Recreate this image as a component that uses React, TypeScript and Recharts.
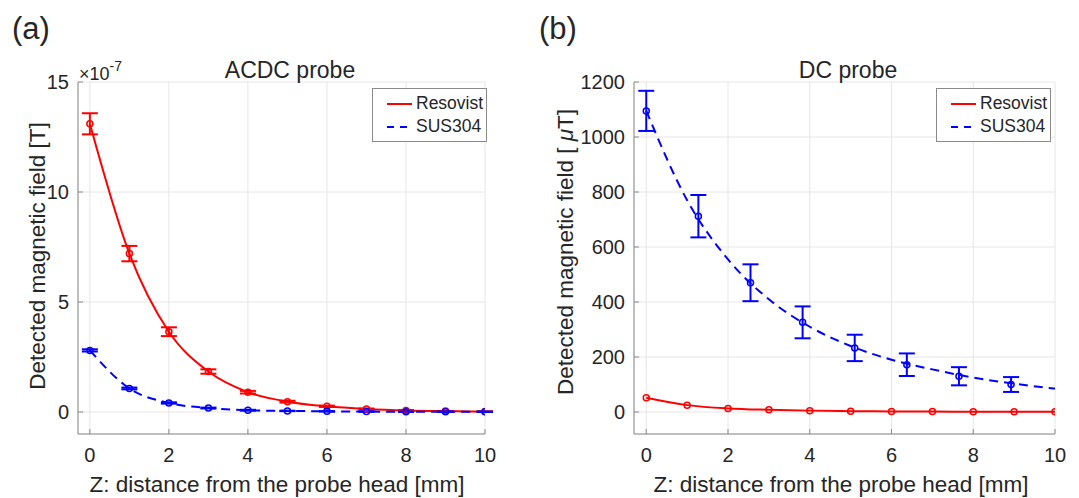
import React from 'react';
import { LineChart, Line, XAxis, YAxis, CartesianGrid, ErrorBar, Legend } from 'recharts';

// ---------- data ----------
const zTicks = [0, 2, 4, 6, 8, 10];
const acdcYTicks = [0, 5, 10, 15];
const dcYTicks = [0, 200, 400, 600, 800, 1000, 1200];

// (a) ACDC probe, values in units of 1e-7 T
const acdcZ = [0, 1, 2, 3, 4, 5, 6, 7, 8, 9, 10];
const acdcResovist = [13.1, 7.2, 3.65, 1.84, 0.9, 0.47, 0.26, 0.14, 0.07, 0.04, 0.02];
const acdcResovistErr = [0.48, 0.35, 0.2, 0.1, 0.06, 0.04, 0.03, 0.02, 0.02, 0.01, 0.01];
const acdcSus = [2.8, 1.07, 0.41, 0.18, 0.08, 0.05, 0.03, 0.02, 0.01, 0.01, 0.01];
const acdcSusErr = [0.05, 0.04, 0.03, 0.02, 0.02, 0.01, 0.01, 0.01, 0.01, 0.01, 0.01];

// (b) DC probe, values in uT
const dcResZ = [0, 1, 2, 3, 4, 5, 6, 7, 8, 9, 10];
const dcResovist = [52, 25, 13, 8, 5, 3, 2, 1.5, 1, 0.8, 0.5];
const dcSusZ = [0, 1.275, 2.55, 3.825, 5.1, 6.375, 7.65, 8.925];
const dcSus = [1095, 712, 470, 326, 233, 172, 130, 100];
const dcSusErr = [73, 77, 67, 58, 48, 41, 33, 27];
const dcFitZ = [0, 1, 2, 3, 4, 5, 6, 7, 8, 9, 10];
const dcFit = [1095, 770, 555, 410, 310, 240, 190, 155, 125, 103, 85];

const acdcData = acdcZ.map((z, i) => ({
  z,
  res: acdcResovist[i],
  resErr: acdcResovistErr[i],
  sus: acdcSus[i],
  susErr: acdcSusErr[i],
}));
const dcResData = dcResZ.map((z, i) => ({ z, v: dcResovist[i] }));
const dcSusData = dcSusZ.map((z, i) => ({ z, v: dcSus[i], e: dcSusErr[i] }));
const dcFitData = dcFitZ.map((z, i) => ({ z, v: dcFit[i] }));

// ---------- styles ----------
const FONT = '"Liberation Sans", Arial, Helvetica, sans-serif';
const TXT = '#262626';
const AXC = '#8a8a8a';
const GRID = '#e6e6e6';
const RED = '#ff0000';
const BLUE = '#0000ff';
const tickStyle = { fontSize: 20, fill: TXT, fontFamily: FONT };

const LegendBox = () => (
  <div
    style={{
      border: `1px solid ${AXC}`,
      background: '#fff',
      padding: '3px 3px 3px 14px',
      fontFamily: FONT,
      fontSize: 17.5,
      color: TXT,
      lineHeight: '23px',
      whiteSpace: 'nowrap',
    }}
  >
    <div style={{ display: 'flex', alignItems: 'center' }}>
      <svg width={26} height={10} style={{ marginRight: 3 }}>
        <line x1={0} y1={5} x2={25} y2={5} stroke={RED} strokeWidth={2} />
      </svg>
      Resovist
    </div>
    <div style={{ display: 'flex', alignItems: 'center' }}>
      <svg width={26} height={10} style={{ marginRight: 3 }}>
        <line x1={0} y1={5} x2={25} y2={5} stroke={BLUE} strokeWidth={2} strokeDasharray="7 6" />
      </svg>
      SUS304
    </div>
  </div>
);

const axisCommon = {
  stroke: AXC,
  tickSize: -5,
};

export default function App() {
  return (
    <div style={{ position: 'absolute', left: 0, top: 0, width: 1079, height: 498, background: '#fff' }}>
      {/* (a) */}
      <div style={{ position: 'absolute', left: 0, top: 0 }}>
        <LineChart width={540} height={498} data={acdcData} margin={{ top: 82, right: 55, left: 18, bottom: 34 }}>
          <CartesianGrid stroke={GRID} />
          <XAxis
            dataKey="z"
            type="number"
            domain={[-0.3, 10]}
            ticks={zTicks}
            allowDataOverflow
            height={30}
            tick={tickStyle}
            tickMargin={19}
            {...axisCommon}
          />
          <XAxis xAxisId="top" orientation="top" type="number" domain={[-0.3, 10]} ticks={zTicks} height={0} tickFormatter={() => ''} {...axisCommon} />
          <YAxis
            type="number"
            domain={[-1, 15]}
            ticks={acdcYTicks}
            allowDataOverflow
            width={60}
            tick={tickStyle}
            tickMargin={14}
            {...axisCommon}
          />
          <YAxis yAxisId="right" orientation="right" type="number" domain={[-1, 15]} ticks={acdcYTicks} width={0} tickFormatter={() => ''} {...axisCommon} />
          <Legend
            layout="vertical"
            align="center"
            verticalAlign="middle"
            content={() => <LegendBox />}
            wrapperStyle={{ left: 372, top: 88, width: 'auto' }}
          />
          <Line
            type="monotone"
            dataKey="res"
            stroke={RED}
            strokeWidth={2}
            dot={{ r: 3, fill: 'none', stroke: RED, strokeWidth: 1.5 }}
            isAnimationActive={false}
          >
            <ErrorBar dataKey="resErr" direction="y" stroke={RED} strokeWidth={2} width={8} />
          </Line>
          <Line
            type="monotone"
            dataKey="sus"
            stroke={BLUE}
            strokeWidth={2}
            strokeDasharray="9 6"
            dot={{ r: 3, fill: 'none', stroke: BLUE, strokeWidth: 1.5, strokeDasharray: '' }}
            isAnimationActive={false}
          >
            <ErrorBar dataKey="susErr" direction="y" stroke={BLUE} strokeWidth={2} width={8} />
          </Line>
        </LineChart>
      </div>

      {/* (b) */}
      <div style={{ position: 'absolute', left: 540, top: 0 }}>
        <LineChart width={539} height={498} margin={{ top: 82, right: 24, left: 34, bottom: 34 }}>
          <CartesianGrid stroke={GRID} />
          <XAxis
            dataKey="z"
            type="number"
            domain={[-0.3, 10]}
            ticks={zTicks}
            allowDataOverflow
            height={30}
            tick={tickStyle}
            tickMargin={19}
            {...axisCommon}
          />
          <XAxis xAxisId="top" orientation="top" type="number" domain={[-0.3, 10]} ticks={zTicks} height={0} tickFormatter={() => ''} {...axisCommon} />
          <YAxis
            type="number"
            domain={[-80, 1200]}
            ticks={dcYTicks}
            allowDataOverflow
            width={60}
            tick={tickStyle}
            tickMargin={14}
            {...axisCommon}
          />
          <YAxis yAxisId="right" orientation="right" type="number" domain={[-80, 1200]} ticks={dcYTicks} width={0} tickFormatter={() => ''} {...axisCommon} />
          <Legend
            layout="vertical"
            align="center"
            verticalAlign="middle"
            content={() => <LegendBox />}
            wrapperStyle={{ left: 396, top: 88, width: 'auto' }}
          />
          <Line
            data={dcResData}
            type="monotone"
            dataKey="v"
            stroke={RED}
            strokeWidth={2}
            dot={{ r: 3, fill: 'none', stroke: RED, strokeWidth: 1.5 }}
            isAnimationActive={false}
          />
          <Line
            data={dcFitData}
            type="monotone"
            dataKey="v"
            stroke={BLUE}
            strokeWidth={2}
            strokeDasharray="9 6"
            dot={false}
            isAnimationActive={false}
          />
          <Line
            data={dcSusData}
            type="linear"
            dataKey="v"
            stroke="none"
            dot={{ r: 3, fill: 'none', stroke: BLUE, strokeWidth: 1.5 }}
            isAnimationActive={false}
          >
            <ErrorBar dataKey="e" direction="y" stroke={BLUE} strokeWidth={2} width={8} />
          </Line>
        </LineChart>
      </div>

      {/* text overlay */}
      <svg width={1079} height={498} style={{ position: 'absolute', left: 0, top: 0, pointerEvents: 'none' }} fontFamily={FONT} fill={TXT}>
        <text x={12} y={39} fontSize={31}>(a)</text>
        <text x={539} y={39} fontSize={31}>(b)</text>
        <text x={290} y={78} fontSize={23} textAnchor="middle">ACDC probe</text>
        <text x={848} y={78} fontSize={23} textAnchor="middle">DC probe</text>
        <text x={79} y={80} style={{ fontSize: '18px' }}>
          ×10<tspan style={{ fontSize: '14px' }} dy={-9}>-7</tspan>
        </text>
        <text x={277} y={492} fontSize={22.5} textAnchor="middle">Z: distance from the probe head [mm]</text>
        <text x={841} y={492} fontSize={22.5} textAnchor="middle">Z: distance from the probe head [mm]</text>
        <text transform="translate(45,256) rotate(-90)" fontSize={22.5} textAnchor="middle">Detected magnetic field [T]</text>
        <text transform="translate(573,252) rotate(-90)" fontSize={22.5} textAnchor="middle">
          Detected magnetic field [ <tspan fontStyle="italic">μ</tspan>T]
        </text>
      </svg>
    </div>
  );
}
